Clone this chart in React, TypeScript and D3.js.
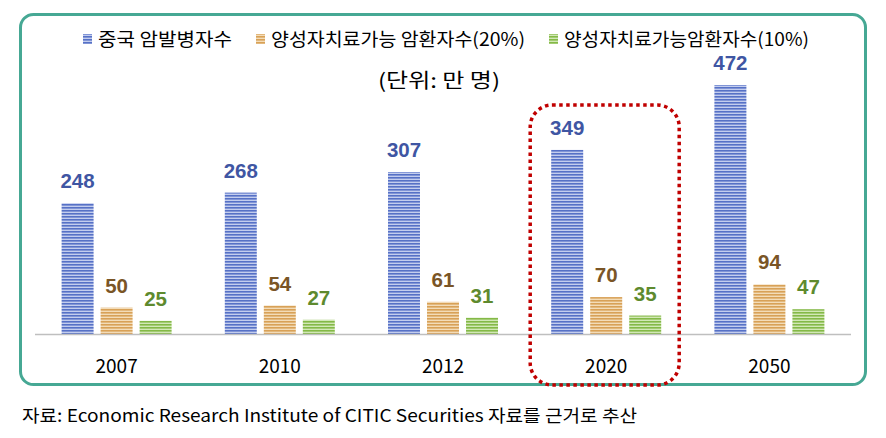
import React from "react";
import * as d3 from "d3";

const categories = ["2007", "2010", "2012", "2020", "2050"];
const seriesNames = ["중국 암발병자수", "양성자치료가능 암환자수(20%)", "양성자치료가능암환자수(10%)"];
const incidence = [248, 268, 307, 349, 472];
const treat20 = [50, 54, 61, 70, 94];
const treat10 = [25, 27, 31, 35, 47];
const unitText = "(단위:  만 명)";
const sourceText = "자료: Economic Research Institute of CITIC Securities 자료를 근거로 추산";
const highlight = "2020";

const seriesData = [incidence, treat20, treat10];
const barColors = [
  { line: "#5671c6", light: "#c3cdee", label: "#3f56a3" },
  { line: "#d8a157", light: "#f3dcb8", label: "#7a5526" },
  { line: "#84b947", light: "#d2e8b6", label: "#5e8a2e" },
];

const W = 886;
const H = 438;
const FONT = "'Noto Sans CJK KR', 'Noto Sans', sans-serif";
const NUM_FONT = "'Liberation Sans', Arial, sans-serif";

export default function App() {
  const plotLeft = 35;
  const plotRight = 851;
  const baseY = 334;
  const x0 = d3.scaleBand<string>().domain(categories).range([plotLeft, plotRight]).paddingInner(0).paddingOuter(0);
  const groupW = 110;
  const x1 = d3.scaleBand<number>().domain([0, 1, 2]).range([0, groupW]).paddingInner(0.18).paddingOuter(0);
  const y = d3.scaleLinear().domain([0, 472]).range([baseY, 85]);

  const hx = (x0(highlight) ?? 0) + x0.bandwidth() / 2;

  const legend = [
    { mx: 83, tx: 98, len: 134 },
    { mx: 256, tx: 271, len: 254 },
    { mx: 549, tx: 564, len: 245 },
  ];

  return (
    <svg width={W} height={H} style={{ position: "absolute", left: 0, top: 0 }} fontFamily={FONT}>
      <defs>
        {barColors.map((c, i) => (
          <pattern key={i} id={`stripe${i}`} patternUnits="userSpaceOnUse" width={4} height={3}>
            <rect x={0} y={0} width={4} height={3} fill={c.light} />
            <rect x={0} y={0} width={4} height={1.6} fill={c.line} />
          </pattern>
        ))}
      </defs>
      <rect x={0} y={0} width={W} height={H} fill="#fff" />
      <rect x={20.5} y={14.5} width={845} height={370} rx={13} fill="none" stroke="#46a894" strokeWidth={3} />

      {/* legend */}
      {legend.map((l, i) => (
        <g key={i}>
          <rect x={l.mx} y={34} width={9} height={10} fill={`url(#stripe${i})`} />
          <text x={l.tx} y={45.5} fontSize={18} fill="#000" textLength={l.len} lengthAdjust="spacingAndGlyphs">{seriesNames[i]}</text>
        </g>
      ))}
      <text x={378} y={88} fontSize={20} fill="#000" textLength={122} lengthAdjust="spacingAndGlyphs">{unitText}</text>

      {/* bars */}
      {categories.map((cat, ci) => {
        const gx = (x0(cat) ?? 0) + (x0.bandwidth() - groupW) / 2;
        return (
          <g key={cat}>
            {seriesData.map((s, si) => {
              const bx = gx + (x1(si) ?? 0);
              const v = s[ci];
              return (
                <g key={si}>
                  <rect x={bx} y={y(v)} width={x1.bandwidth()} height={baseY - y(v)} fill={`url(#stripe${si})`} />
                  <text x={bx + x1.bandwidth() / 2} y={y(v) - 15} fontSize={20.5} fontFamily={NUM_FONT} fontWeight="bold" textAnchor="middle" fill={barColors[si].label}>{v}</text>
                </g>
              );
            })}
            <text x={(x0(cat) ?? 0) + x0.bandwidth() / 2} y={373} fontSize={19} textAnchor="middle" fill="#000">{cat}</text>
          </g>
        );
      })}
      <line x1={plotLeft} x2={plotRight} y1={baseY + 0.5} y2={baseY + 0.5} stroke="#bfbfbf" strokeWidth={1.5} />

      {/* highlight */}
      <rect x={hx - 76} y={105} width={149} height={280} rx={22} fill="none" stroke="#c00000" strokeWidth={3.5} strokeDasharray="3.5 3.5" />

      <text x={22} y={422} fontSize={17.5} fill="#000" textLength={615} lengthAdjust="spacingAndGlyphs">{sourceText}</text>
    </svg>
  );
}
